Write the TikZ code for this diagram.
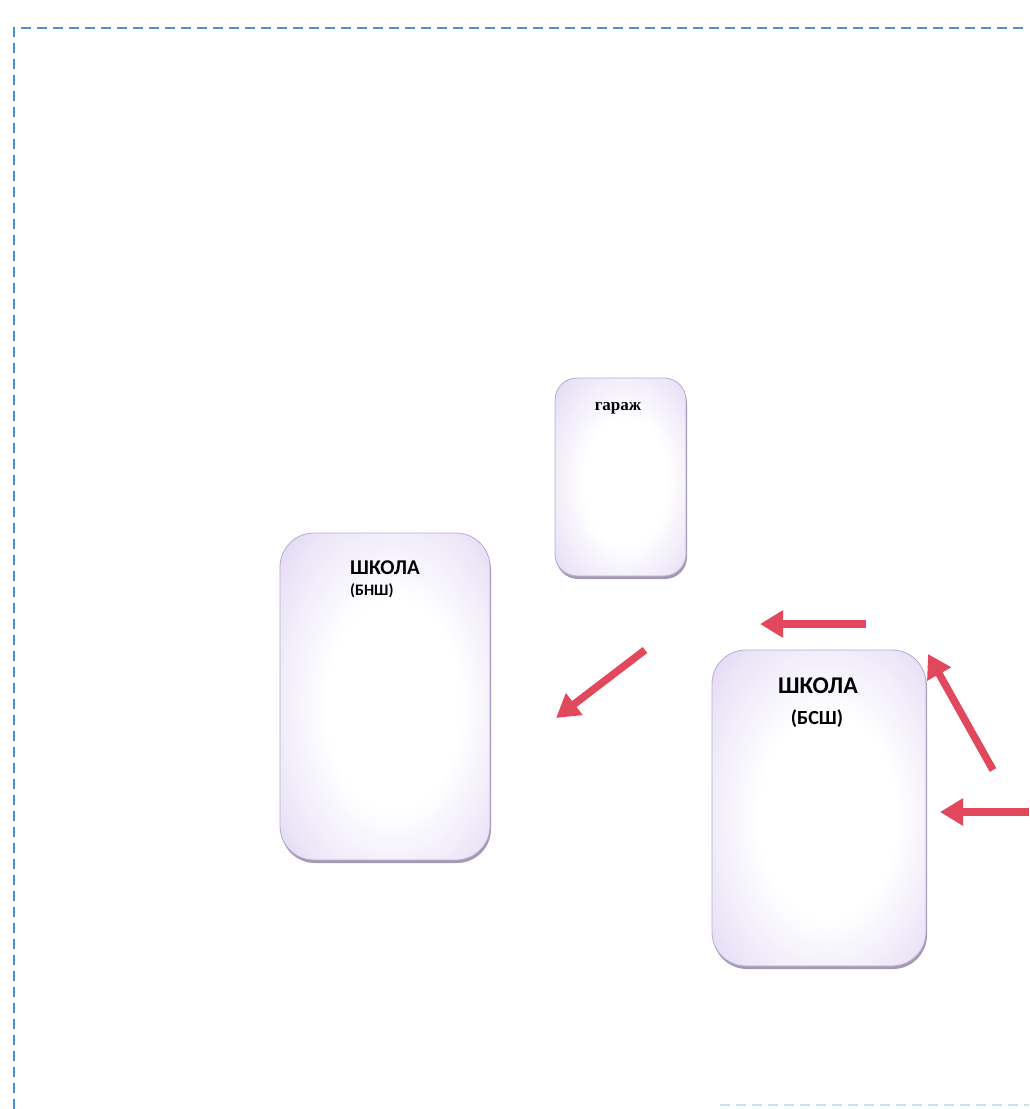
\documentclass[tikz,border=0pt]{standalone}
\usepackage{fontspec}
\setmainfont{Carlito}
\newfontfamily\serifcyr{Liberation Serif}
\usetikzlibrary{arrows.meta,shadows}
\definecolor{lav}{RGB}{204,190,232}
\definecolor{lavlight}{RGB}{236,230,248}
\definecolor{lavedge}{RGB}{184,170,210}
\definecolor{lavshadow}{RGB}{140,128,160}
\definecolor{arrred}{RGB}{226,72,92}
\definecolor{dashblue}{RGB}{72,146,210}
\definecolor{dashfaint}{RGB}{200,225,242}
\pgfdeclareradialshading{bldgshade}{\pgfpoint{3bp}{-2bp}}{%
  color(0bp)=(white); color(16bp)=(white); color(30bp)=(lavlight);
  color(46bp)=(lav); color(50bp)=(lav)}
\tikzset{
  building/.style={draw=lavedge, line width=0.8pt, shading=bldgshade,
    drop shadow={shadow xshift=1pt, shadow yshift=-3pt, fill=lavshadow, opacity=0.8}},
  redarrow/.style={draw=arrred, line width=7.5pt, -{Triangle[width=26pt,length=23pt]}},
  frameline/.style={draw=dashblue, line width=2pt, dash pattern=on 10pt off 6pt},
  labelbold/.style={font=\bfseries\fontsize{21}{23}\selectfont, inner sep=0pt},
  labelsub/.style={font=\bfseries\fontsize{16}{18}\selectfont, inner sep=0pt}
}
\begin{document}
\begin{tikzpicture}[x=1pt,y=-1pt]
\useasboundingbox (0,0) rectangle (1029,1109);
% frame
\coordinate (ftl) at (14,28);
\coordinate (ftr) at (1029,28);
\coordinate (fbl) at (14,1109);
\draw[frameline] (fbl) -- (ftl) -- (ftr);
\coordinate (fb1) at (720,1105);
\coordinate (fb2) at (1029,1105);
\draw[draw=dashfaint, line width=2pt, dash pattern=on 10pt off 6pt] (fb1) -- (fb2);
% buildings
\path[building, rounded corners=22pt] (555,378) rectangle (686,576);
\path[building, rounded corners=34pt] (280,533) rectangle (490,860);
\path[building, rounded corners=34pt] (712,650) rectangle (926,966);
\node[inner sep=0pt, font=\serifcyr\bfseries\fontsize{17}{19}\selectfont] (garage) at (618,408) {гараж};
\node[labelbold, anchor=west] (bnsh1) at (350,568) {ШКОЛА};
\node[labelsub, anchor=west] (bnsh2) at (350,591) {(БНШ)};
\node[labelbold, font=\bfseries\fontsize{24}{26}\selectfont] (bssh1) at (818,686) {ШКОЛА};
\node[labelsub, font=\bfseries\fontsize{20}{22}\selectfont] (bssh2) at (817,719) {(БСШ)};
% arrows
\coordinate (a1s) at (866,624); \coordinate (a1e) at (760,624);
\coordinate (a2s) at (645,650); \coordinate (a2e) at (556,718);
\coordinate (a3s) at (993,770); \coordinate (a3e) at (928,654);
\coordinate (a4s) at (1029,812); \coordinate (a4e) at (940,812);
\draw[redarrow] (a1s) -- (a1e);
\draw[redarrow] (a2s) -- (a2e);
\draw[redarrow] (a3s) -- (a3e);
\draw[redarrow] (a4s) -- (a4e);
\end{tikzpicture}
\end{document}
